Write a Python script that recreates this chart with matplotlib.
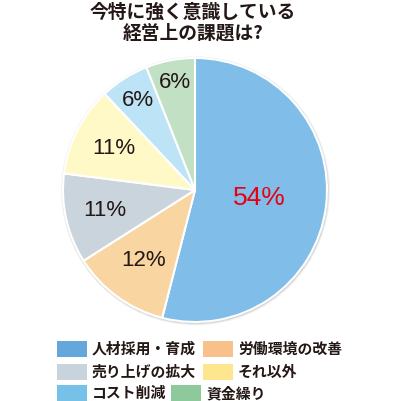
import matplotlib
matplotlib.use("Agg")
import matplotlib.pyplot as plt
from matplotlib.patches import Rectangle, Circle
import numpy as np

plt.rcParams['font.family'] = ['Noto Sans CJK JP', 'DejaVu Sans']

title_lines = ["今特に強く意識している", "経営上の課題は?"]
categories = ["人材採用・育成", "労働環境の改善", "売り上げの拡大", "それ以外", "コスト削減", "資金繰り"]
values = [54, 12, 11, 11, 6, 6]
slice_colors = ["#80bde8", "#f9d5a2", "#c9d4dd", "#fef9c6", "#bde3f7", "#c2e0c4"]
legend_colors = ["#63a7dc", "#f8c18b", "#c9d3dc", "#fde68d", "#76c1e7", "#8ec99b"]
label_colors = ["#e60012", "#231815", "#231815", "#231815", "#231815", "#231815"]

# layout (pixel coords, y measured from top)
label_dist = [0.49, 0.66, 0.70, 0.69, 0.80, 0.83]
label_size = [19, 16, 16, 16, 16, 16]
cx, cy, r = 195, 190, 132
W = 401

fig = plt.figure(figsize=(4.01, 4.01), dpi=100)
ax = fig.add_axes([0, 0, 1, 1])
ax.axis("off")

# soft shadow around the pie
for i, a in enumerate([0.05, 0.08, 0.12]):
    ax.add_patch(Circle((cx + 0.5, W - cy - 0.8), r + 2.5 - i, color="#000000", alpha=a, lw=0, zorder=0))

wedges, texts = ax.pie(values, colors=slice_colors, startangle=90, counterclock=False,
                       center=(cx, W - cy), radius=r, labeldistance=None,
                       wedgeprops=dict(edgecolor="white", linewidth=1.5))
ax.set_xlim(0, W)
ax.set_ylim(0, W)
ax.set_aspect("auto")

for w, v, d, c, s in zip(wedges, values, label_dist, label_colors, label_size):
    ang = np.deg2rad((w.theta1 + w.theta2) / 2)
    ax.text(cx + d * r * np.cos(ang), W - cy + d * r * np.sin(ang), f"{v}%",
            ha="center", va="center", fontsize=s, color=c, family="Liberation Sans")

for line, y in zip(title_lines, [12, 33]):
    ax.text(193, W - y, line, ha="center", va="center", fontsize=13.5,
            fontweight="bold", color="#231815")

# legend, flowed in rows like the original
legend_pos = [(57, 349), (203, 349), (57, 372), (203, 372), (57, 393), (171, 393)]
for (x, y), name, col in zip(legend_pos, categories, legend_colors):
    ax.add_patch(Rectangle((x, W - y - 8), 30, 16, color=col, lw=0))
    ax.text(x + 35, W - y, name, ha="left", va="center", fontsize=10.7,
            fontweight="bold", color="#231815")

fig.savefig("out.png", dpi=100)
